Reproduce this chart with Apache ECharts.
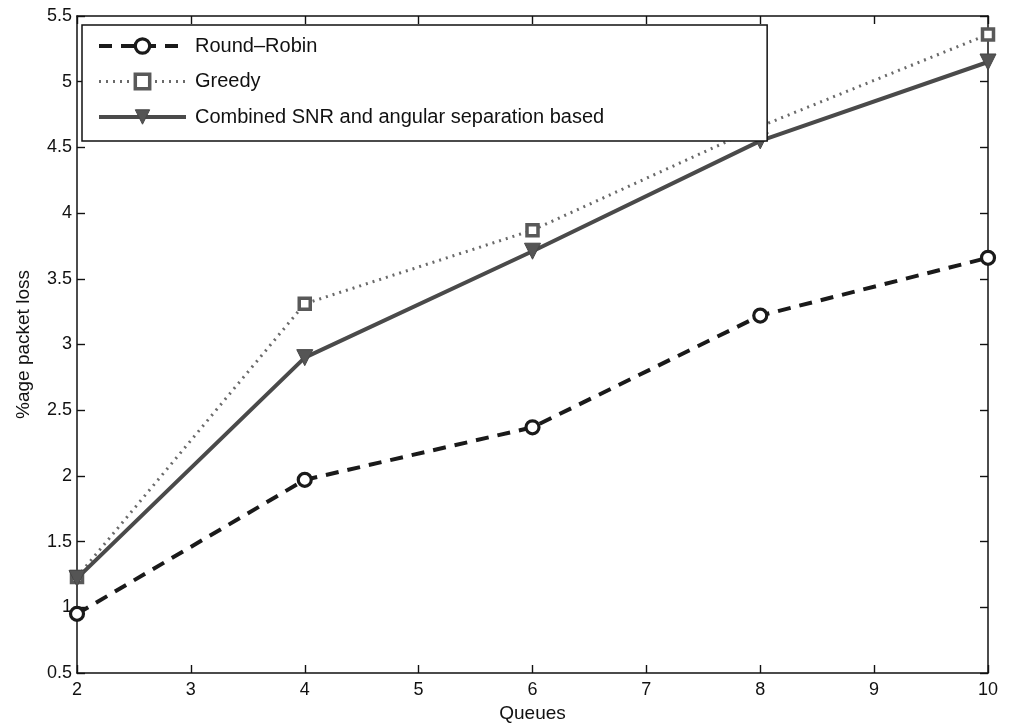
<!DOCTYPE html>
<html>
<head>
<meta charset="utf-8">
<script src="https://cdn.jsdelivr.net/npm/echarts@6/dist/echarts.min.js"></script>
<style>
  html, body { margin: 0; padding: 0; background: #fff; }
  #chart { width: 1009px; height: 728px; }
</style>
</head>
<body>
<div id="chart"></div>
<script>
// Packet loss versus number of queues for three scheduling schemes
const queues = [2, 4, 6, 8, 10];
const roundRobin = [0.95, 1.97, 2.37, 3.22, 3.66];
const greedy = [1.23, 3.31, 3.87, 4.66, 5.36];
const combined = [1.22, 2.90, 3.71, 4.55, 5.15];
const seriesNames = ['Round\u2013Robin', 'Greedy', 'Combined SNR and angular separation based'];

const pairs = ys => queues.map((q, i) => [q, ys[i]]);

const font = 'Liberation Sans, Arial, Helvetica, sans-serif';
const ink = '#111';

const styles = [
  {
    symbol: 'circle', symbolSize: 13,
    lineStyle: { color: '#1a1a1a', width: 4, type: [13, 9] },
    itemStyle: { color: '#fff', borderColor: '#1a1a1a', borderWidth: 3.2 }
  },
  {
    symbol: 'rect', symbolSize: 11,
    lineStyle: { color: '#6a6a6a', width: 3, type: [2, 5] },
    itemStyle: { color: '#fff', borderColor: '#595959', borderWidth: 3.5 }
  },
  {
    symbol: 'triangle', symbolSize: 16,
    lineStyle: { color: '#4a4a4a', width: 4 },
    itemStyle: { color: '#555', borderColor: '#474747', borderWidth: 1 }
  }
];

const axisCommon = {
  axisLine: { show: true, onZero: false, lineStyle: { color: ink, width: 1.5 } },
  axisTick: { show: true, inside: true, length: 8, lineStyle: { color: ink, width: 1.4 } },
  splitLine: { show: false }
};

const chart = echarts.init(document.getElementById('chart'));
chart.setOption({
  backgroundColor: '#fff',
  animation: false,
  textStyle: { fontFamily: font },
  grid: { left: 77, right: 21, top: 16, bottom: 54 },
  legend: {
    orient: 'vertical',
    left: 82,
    top: 25,
    z: 20,
    itemWidth: 87,
    itemHeight: 18,
    itemGap: 15.5,
    padding: [11, 163, 14, 15],
    backgroundColor: '#fff',
    borderColor: ink,
    borderWidth: 1.5,
    textStyle: { fontFamily: font, fontSize: 20, color: ink, padding: [0, 0, 0, 4] },
    data: seriesNames.map((name, i) => ({
      name: name,
      lineStyle: styles[i].lineStyle,
      itemStyle: styles[i].itemStyle
    }))
  },
  xAxis: [
    Object.assign({
      type: 'value', min: 2, max: 10, interval: 1, position: 'bottom',
      name: 'Queues', nameLocation: 'middle', nameGap: 31,
      nameTextStyle: { fontFamily: font, fontSize: 19, color: ink },
      axisLabel: { fontFamily: font, fontSize: 18, color: ink, margin: 8 }
    }, axisCommon),
    Object.assign({
      type: 'value', min: 2, max: 10, interval: 1, position: 'top',
      axisLabel: { show: false }
    }, axisCommon)
  ],
  yAxis: [
    Object.assign({
      type: 'value', min: 0.5, max: 5.5, interval: 0.5, position: 'left',
      name: '%age packet loss', nameLocation: 'middle', nameGap: 44, nameRotate: 90,
      nameTextStyle: { fontFamily: font, fontSize: 19, color: ink },
      axisLabel: { fontFamily: font, fontSize: 18, color: ink, margin: 5 }
    }, axisCommon),
    Object.assign({
      type: 'value', min: 0.5, max: 5.5, interval: 0.5, position: 'right',
      axisLabel: { show: false }
    }, axisCommon)
  ],
  series: [
    Object.assign({ name: seriesNames[0], type: 'line', data: pairs(roundRobin), z: 3 }, styles[0]),
    Object.assign({ name: seriesNames[1], type: 'line', data: pairs(greedy), z: 2 }, styles[1]),
    Object.assign({ name: seriesNames[2], type: 'line', data: pairs(combined), z: 4, symbolRotate: 180 }, styles[2])
  ]
});
</script>
</body>
</html>
